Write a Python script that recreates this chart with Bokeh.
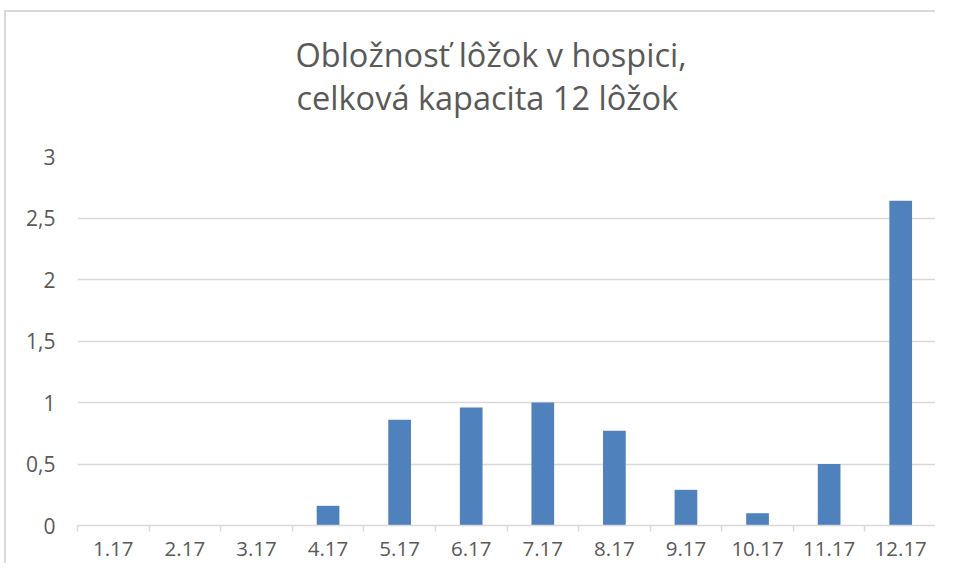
from bokeh.plotting import figure
from bokeh.models import FixedTicker, CustomJSTickFormatter, Title, Range1d
from bokeh.embed import file_html
from bokeh.resources import INLINE

categories = ["1.17", "2.17", "3.17", "4.17", "5.17", "6.17",
              "7.17", "8.17", "9.17", "10.17", "11.17", "12.17"]
values = [0, 0, 0, 0.16, 0.86, 0.96, 1.0, 0.77, 0.29, 0.1, 0.5, 2.64]
y_ticks = [0, 0.5, 1, 1.5, 2, 2.5, 3]
title_lines = ["Obložnosť lôžok v hospici,", "celková kapacita 12 lôžok"]

FONT = "Open Sans"
TXT = "#595959"
GRID = "#d9d9d9"

x = list(range(1, len(categories) + 1))

p = figure(width=931, height=553, output_backend="svg", toolbar_location=None,
           x_range=Range1d(0.5, len(categories) + 0.5), y_range=Range1d(0, 3),
           min_border_left=71, min_border_right=1, min_border_top=144,
           min_border_bottom=40, title=None)
p.margin = (10, 0, 0, 4)
p.styles = {"border-top": "2px solid #d9d9d9", "border-left": "2px solid #d9d9d9"}
p.outline_line_color = None
p.background_fill_color = "white"
p.border_fill_color = "white"

# titles added first sit closest to the plot
spacer = Title(text=" ", text_font_size="1px", standoff=36)
p.add_layout(spacer, "above")
t2 = Title(text=title_lines[1], align="left", text_font=FONT, text_font_size="32.5px",
           text_font_style="normal", text_color=TXT, standoff=-4, offset=219)
p.add_layout(t2, "above")
t1 = Title(text=title_lines[0], align="left", text_font=FONT, text_font_size="32.5px",
           text_font_style="normal", text_color=TXT, standoff=-4, offset=218)
p.add_layout(t1, "above")

p.vbar(x=x, top=values, width=0.317, fill_color="#4f81bd", line_color=None)

xa = p.xaxis[0]
xa.ticker = FixedTicker(ticks=x, minor_ticks=[i + 0.5 for i in range(0, len(categories) + 1)])
xa.formatter = CustomJSTickFormatter(args=dict(cats=categories),
                                     code="const i = Math.round(tick) - 1; return (i >= 0 && i < cats.length) ? cats[i] : '';")
xa.major_tick_line_color = None
xa.major_tick_out = 0
xa.major_tick_in = 0
xa.minor_tick_line_color = GRID
xa.minor_tick_line_width = 1.5
xa.minor_tick_out = 6
xa.minor_tick_in = 0
xa.axis_line_color = GRID
xa.axis_line_width = 1.5
xa.major_label_text_font = FONT
xa.major_label_text_font_size = "20.5px"
xa.major_label_text_color = TXT
xa.major_label_standoff = 10

ya = p.yaxis[0]
ya.ticker = FixedTicker(ticks=y_ticks, minor_ticks=[])
ya.formatter = CustomJSTickFormatter(code="return tick.toString().replace('.', ',');")
ya.axis_line_color = None
ya.major_tick_line_color = None
ya.major_tick_out = 0
ya.major_tick_in = 0
ya.minor_tick_line_color = None
ya.major_label_text_font = FONT
ya.major_label_text_font_size = "21px"
ya.major_label_text_color = TXT
ya.major_label_standoff = 22

p.xgrid.visible = False
p.ygrid.grid_line_color = GRID
p.ygrid.grid_line_width = 1.5

open("out.html", "w").write(file_html(p, INLINE))
